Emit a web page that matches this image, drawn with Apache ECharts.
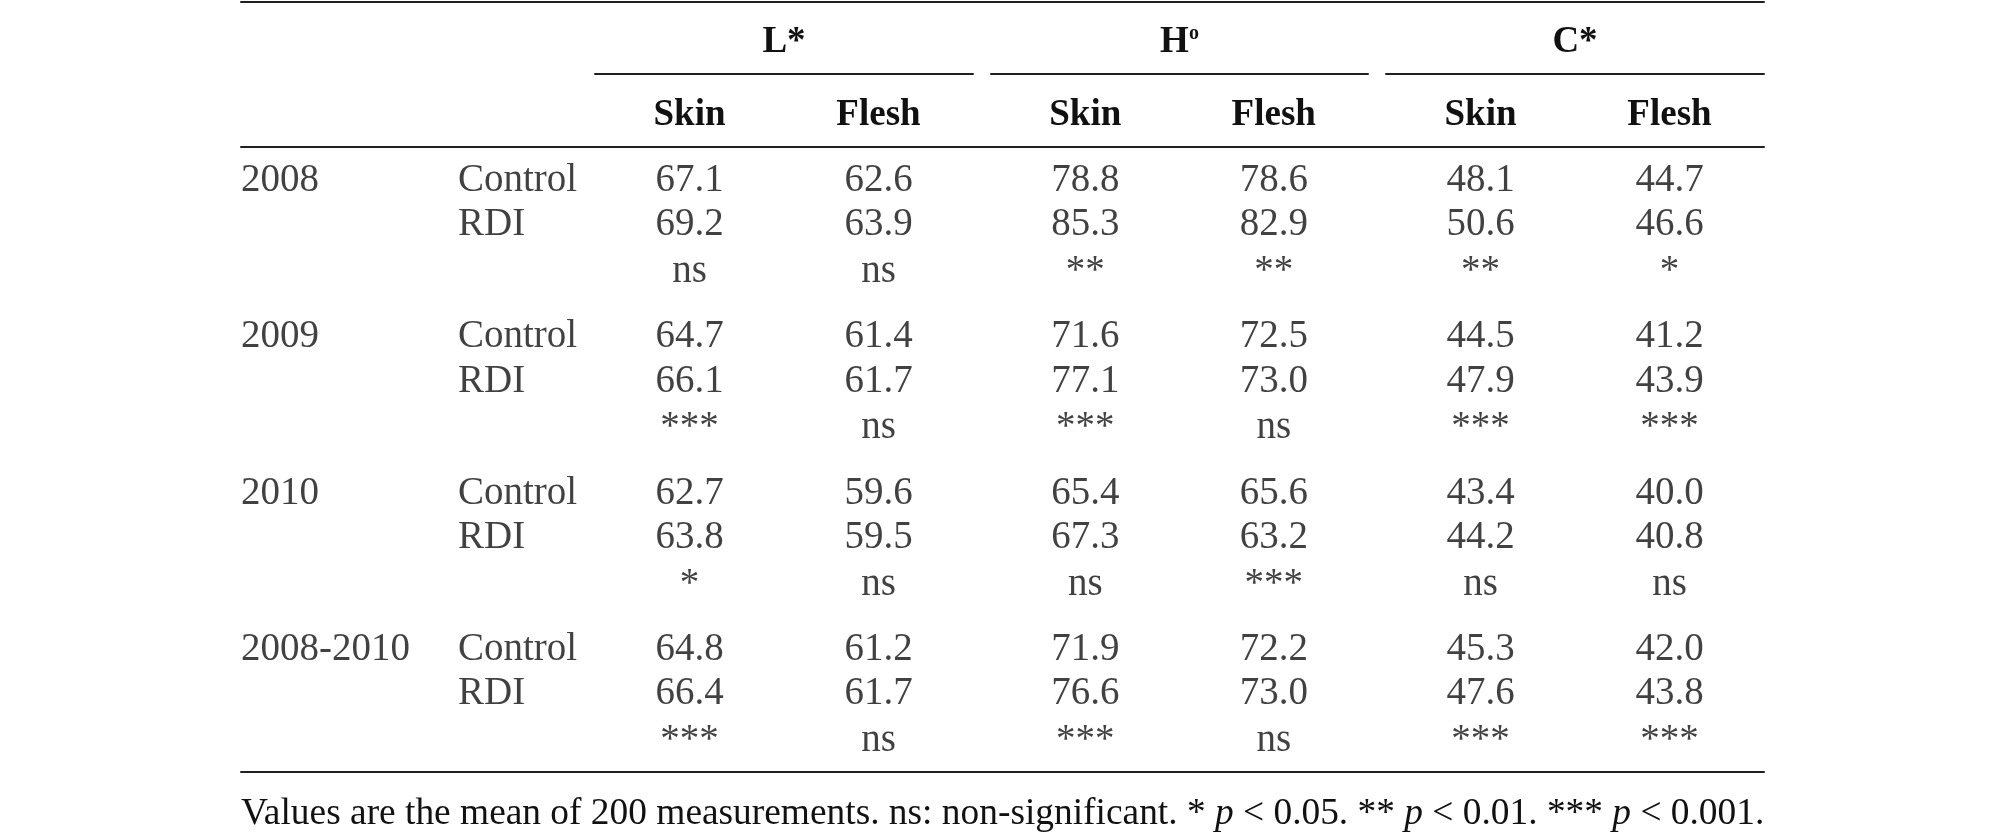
<!DOCTYPE html>
<html>
<head>
<meta charset="utf-8">
<script src="https://cdn.jsdelivr.net/npm/echarts@6/dist/echarts.min.js"></script>
<style>
html,body{margin:0;padding:0;background:#ffffff;}
#chart{width:2007px;height:835px;}
</style>
</head>
<body>
<div id="chart"></div>
<script>
// ---------------- data ----------------
const years = ['2008', '2009', '2010', '2008-2010'];
const treatments = ['Control', 'RDI'];
const groups = ['L*', 'H{sup|o}', 'C*'];
const parts = ['Skin', 'Flesh'];

const lSkinControl  = [67.1, 64.7, 62.7, 64.8];
const lSkinRdi      = [69.2, 66.1, 63.8, 66.4];
const lSkinSig      = ['ns', '***', '*', '***'];
const lFleshControl = [62.6, 61.4, 59.6, 61.2];
const lFleshRdi     = [63.9, 61.7, 59.5, 61.7];
const lFleshSig     = ['ns', 'ns', 'ns', 'ns'];

const hSkinControl  = [78.8, 71.6, 65.4, 71.9];
const hSkinRdi      = [85.3, 77.1, 67.3, 76.6];
const hSkinSig      = ['**', '***', 'ns', '***'];
const hFleshControl = [78.6, 72.5, 65.6, 72.2];
const hFleshRdi     = [82.9, 73.0, 63.2, 73.0];
const hFleshSig     = ['**', 'ns', '***', 'ns'];

const cSkinControl  = [48.1, 44.5, 43.4, 45.3];
const cSkinRdi      = [50.6, 47.9, 44.2, 47.6];
const cSkinSig      = ['**', '***', 'ns', '***'];
const cFleshControl = [44.7, 41.2, 40.0, 42.0];
const cFleshRdi     = [46.6, 43.9, 40.8, 43.8];
const cFleshSig     = ['*', '***', 'ns', '***'];

const footnote = 'Values are the mean of 200 measurements. ns: non-significant. * {i|p} < 0.05. ** {i|p} < 0.01. *** {i|p} < 0.001.';

// ---------------- layout / style ----------------
const INK = '#231f20';
const TEXT_INK = '#111111';
const FONT = '"Liberation Serif", "Times New Roman", serif';
const BODY_SIZE = 39;
const HEAD_SIZE = 37;
const NOTE_SIZE = 37.4;
const RULE_W = 2;

const TABLE_LEFT = 241, TABLE_WIDTH = 1523;
const TOP_RULE = 2, HEAD_RULE = 147, BOTTOM_RULE = 772, GROUP_RULE = 74;
const GROUP_BOXES = [{left: 595, width: 378}, {left: 991, width: 377}, {left: 1386, width: 378}];
const ROWHEAD_BOX = {left: 241, width: 217};

// vertical slot scheme (rows are placed on a fine category axis)
const HEADER_SLOTS = 28, BLOCK_SLOTS = 60, ROW_SLOTS = [13, 30, 48];
const TOTAL_SLOTS = HEADER_SLOTS + BLOCK_SLOTS * years.length;

const rowKinds = ['Control', 'RDI', 'sig'];
const yCats = [];
for (let i = 0; i <= TOTAL_SLOTS; i++) yCats.push('slot' + i);
years.forEach((y, b) => {
  rowKinds.forEach((k, r) => {
    yCats[HEADER_SLOTS + BLOCK_SLOTS * b + ROW_SLOTS[r]] = y + '|' + k;
  });
});

const tableData = [
  [[lSkinControl, lSkinRdi, lSkinSig], [lFleshControl, lFleshRdi, lFleshSig]],
  [[hSkinControl, hSkinRdi, hSkinSig], [hFleshControl, hFleshRdi, hFleshSig]],
  [[cSkinControl, cSkinRdi, cSkinSig], [cFleshControl, cFleshRdi, cFleshSig]]
];

const bodyFont = {fontFamily: FONT, fontSize: BODY_SIZE, color: TEXT_INK, fontWeight: 'normal'};

const grids = [];
const xAxes = [];
const yAxes = [];
const series = [];

const ruleLine = {show: true, onZero: false, lineStyle: {color: INK, width: RULE_W}};
const hiddenValue = (gi, extra) => Object.assign({
  type: 'value', gridIndex: gi, min: 0, max: 1,
  axisLabel: {show: false}, axisTick: {show: false}, splitLine: {show: false}
}, extra);

// frame: header block (top rule + header rule)
grids.push({left: TABLE_LEFT, width: TABLE_WIDTH, top: TOP_RULE, height: HEAD_RULE - TOP_RULE, outerBoundsMode: 'none', containLabel: false});
xAxes.push(hiddenValue(0, {position: 'top', axisLine: ruleLine}));
xAxes.push(hiddenValue(0, {position: 'bottom', axisLine: ruleLine}));
yAxes.push(hiddenValue(0, {show: false}));

// frame: body block (bottom rule)
grids.push({left: TABLE_LEFT, width: TABLE_WIDTH, top: HEAD_RULE, height: BOTTOM_RULE - HEAD_RULE, outerBoundsMode: 'none', containLabel: false});
xAxes.push(hiddenValue(1, {position: 'bottom', axisLine: ruleLine}));
yAxes.push(hiddenValue(1, {show: false}));

// row headers (year / treatment)
grids.push({left: ROWHEAD_BOX.left, width: ROWHEAD_BOX.width, top: GROUP_RULE, height: BOTTOM_RULE - GROUP_RULE, outerBoundsMode: 'none', containLabel: false});
xAxes.push({type: 'category', gridIndex: 2, data: ['year', 'treatment'], boundaryGap: false, show: false});
yAxes.push({type: 'category', gridIndex: 2, data: yCats, boundaryGap: false, inverse: true, show: false});
const rowHeadData = [];
years.forEach((y) => {
  rowHeadData.push(['year', y + '|Control', y]);
  treatments.forEach((t) => rowHeadData.push(['treatment', y + '|' + t, t]));
});
series.push({
  type: 'scatter', xAxisIndex: 3, yAxisIndex: 2, silent: true,
  symbolSize: 1, itemStyle: {color: 'rgba(0,0,0,0)'},
  label: Object.assign({show: true, position: 'inside', align: 'left', verticalAlign: 'middle',
    formatter: (p) => p.value[2]}, bodyFont),
  data: rowHeadData
});

// groups
groups.forEach((g, gi) => {
  const gridIndex = grids.length;
  const box = GROUP_BOXES[gi];
  grids.push({left: box.left, width: box.width, top: GROUP_RULE, height: BOTTOM_RULE - GROUP_RULE, outerBoundsMode: 'none', containLabel: false});
  const xIndex = xAxes.length;
  xAxes.push({
    type: 'category', gridIndex: gridIndex, data: parts, position: 'top', boundaryGap: true,
    axisLine: {show: true, lineStyle: {color: INK, width: RULE_W}},
    axisTick: {show: false}, splitLine: {show: false},
    axisLabel: {show: true, inside: true, margin: 41, verticalAlign: 'middle', interval: 0,
      fontFamily: FONT, fontSize: HEAD_SIZE, fontWeight: 'bold', color: TEXT_INK},
    name: g, nameLocation: 'middle', nameGap: 32,
    nameTextStyle: {fontFamily: FONT, fontSize: HEAD_SIZE, fontWeight: 'bold', color: TEXT_INK, verticalAlign: 'middle',
      rich: {sup: {fontFamily: FONT, fontSize: 20, fontWeight: 'bold', color: TEXT_INK, verticalAlign: 'top'}}}
  });
  const yIndex = yAxes.length;
  yAxes.push({type: 'category', gridIndex: gridIndex, data: yCats, boundaryGap: false, inverse: true, show: false});
  parts.forEach((part, pi) => {
    const cols = tableData[gi][pi];
    const data = [];
    years.forEach((y, b) => {
      data.push([part, y + '|Control', cols[0][b].toFixed(1)]);
      data.push([part, y + '|RDI', cols[1][b].toFixed(1)]);
      data.push([part, y + '|sig', cols[2][b]]);
    });
    series.push({
      type: 'scatter', xAxisIndex: xIndex, yAxisIndex: yIndex, silent: true,
      symbolSize: 1, itemStyle: {color: 'rgba(0,0,0,0)'},
      label: Object.assign({show: true, position: 'inside', align: 'center', verticalAlign: 'middle',
        formatter: (p) => p.value[2]}, bodyFont),
      data: data
    });
  });
});

const chart = echarts.init(document.getElementById('chart'), null, {renderer: 'canvas'});
chart.setOption({
  backgroundColor: '#ffffff',
  animation: false,
  tooltip: {show: false},
  title: {
    text: footnote, left: TABLE_LEFT, top: 792, padding: 0,
    textStyle: {fontFamily: FONT, fontSize: NOTE_SIZE, fontWeight: 'normal', color: TEXT_INK, lineHeight: 44,
      rich: {i: {fontFamily: FONT, fontSize: NOTE_SIZE, fontStyle: 'italic', color: TEXT_INK, lineHeight: 44}}}
  },
  grid: grids,
  xAxis: xAxes,
  yAxis: yAxes,
  series: series
});
</script>
</body>
</html>
